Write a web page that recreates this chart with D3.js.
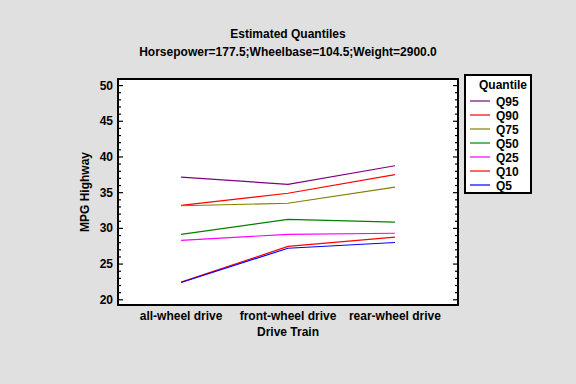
<!DOCTYPE html>
<html>
<head>
<meta charset="utf-8">
<script src="https://cdn.jsdelivr.net/npm/d3@7"></script>
<style>
  body { margin: 0; background: #e0e0e0; }
  text { font-family: "Liberation Sans", Arial, sans-serif; font-weight: bold; fill: #000; }
</style>
</head>
<body>
<div id="chart-area"></div>
<script>
// drive train categories
var driveTrains = ["all-wheel drive", "front-wheel drive", "rear-wheel drive"];

// quantile series
var q95 = [37.1, 36.1, 38.7];
var q90 = [33.15, 34.85, 37.45];
var q75 = [33.1, 33.45, 35.7];
var q50 = [29.1, 31.2, 30.8];
var q25 = [28.25, 29.1, 29.25];
var q10 = [22.4, 27.4, 28.7];
var q5 = [22.35, 27.15, 27.95];

var seriesNames = ["Q95", "Q90", "Q75", "Q50", "Q25", "Q10", "Q5"];
var seriesValues = [q95, q90, q75, q50, q25, q10, q5];
var seriesColors = ["#800080", "#ff0000", "#808000", "#008000", "#ff00ff", "#ff0000", "#0000ff"];

var yTicks = [20, 25, 30, 35, 40, 45, 50];

var W = 576, H = 384;
var margin = {left: 118, right: 118, top: 79, bottom: 79};
var width = W - margin.left - margin.right;
var height = H - margin.top - margin.bottom;

var svg = d3.select("#chart-area")
  .append("svg")
    .attr("width", W)
    .attr("height", H);

svg.append("rect")
    .attr("width", W).attr("height", H)
    .attr("fill", "#e0e0e0");

svg.append("text")
    .attr("x", 288).attr("y", 38)
    .attr("text-anchor", "middle")
    .attr("font-size", "12px")
    .text("Estimated Quantiles");

svg.append("text")
    .attr("x", 288).attr("y", 56)
    .attr("text-anchor", "middle")
    .attr("font-size", "12px")
    .text("Horsepower=177.5;Wheelbase=104.5;Weight=2900.0");

var g = svg.append("g")
    .attr("transform", "translate(" + margin.left + ", " + margin.top + ")");

g.append("rect")
    .attr("width", width).attr("height", height)
    .attr("fill", "#fff");

var x = d3.scalePoint()
    .domain(driveTrains)
    .range([0, width])
    .padding(0.59);

var y = d3.scaleLinear()
    .domain([19.2, 50.85])
    .range([height, 0]);

// minor + major ticks, pointing inward on both sides
var minorTicks = d3.range(20, 51, 1).filter((d) => d % 5 !== 0);

var leftAxis = d3.axisRight(y).tickValues(yTicks).tickSize(5).tickFormat("");
var leftMinor = d3.axisRight(y).tickValues(minorTicks).tickSize(3).tickFormat("");
var rightAxis = d3.axisLeft(y).tickValues(yTicks).tickSize(5).tickFormat("");
var rightMinor = d3.axisLeft(y).tickValues(minorTicks).tickSize(3).tickFormat("");

[leftAxis, leftMinor].forEach((a) => {
  g.append("g").attr("class", "left axis").call(a);
});
[rightAxis, rightMinor].forEach((a) => {
  g.append("g").attr("class", "right axis")
    .attr("transform", "translate(" + width + ",0)")
    .call(a);
});
g.selectAll(".axis .domain").remove();
g.selectAll(".axis line").attr("stroke", "#000").attr("stroke-width", 1.2);

// y tick labels
g.selectAll(".ylab").data(yTicks).enter()
  .append("text")
    .attr("class", "ylab")
    .attr("x", -5)
    .attr("y", (d) => y(d) + 4.5)
    .attr("text-anchor", "end")
    .attr("font-size", "12px")
    .text((d) => d);

// x tick labels
g.selectAll(".xlab").data(driveTrains).enter()
  .append("text")
    .attr("class", "xlab")
    .attr("x", (d) => x(d))
    .attr("y", height + 15)
    .attr("text-anchor", "middle")
    .attr("font-size", "12px")
    .text((d) => d);

var line = d3.line()
    .x((d, i) => x(driveTrains[i]))
    .y((d) => y(d));

g.selectAll(".series").data(seriesValues).enter()
  .append("path")
    .attr("class", "series")
    .attr("d", (d) => line(d))
    .attr("fill", "none")
    .attr("stroke", (d, i) => seriesColors[i])
    .attr("stroke-width", 1.2);

g.append("rect")
    .attr("width", width).attr("height", height)
    .attr("fill", "none")
    .attr("stroke", "#000")
    .attr("stroke-width", 2);

g.append("text")
    .attr("x", width / 2)
    .attr("y", height + 31)
    .attr("text-anchor", "middle")
    .attr("font-size", "12px")
    .text("Drive Train");

g.append("text")
    .attr("x", -(height / 2))
    .attr("y", -29)
    .attr("text-anchor", "middle")
    .attr("font-size", "12px")
    .attr("transform", "rotate(-90)")
    .text("MPG Highway");

// legend
var lg = svg.append("g").attr("transform", "translate(465, 75)");
lg.append("rect")
    .attr("width", 66).attr("height", 118)
    .attr("fill", "#fff")
    .attr("stroke", "#000")
    .attr("stroke-width", 2);
lg.append("text")
    .attr("x", 38).attr("y", 14)
    .attr("text-anchor", "middle")
    .attr("font-size", "12px")
    .text("Quantile");

var items = lg.selectAll(".item").data(seriesNames).enter()
  .append("g")
    .attr("class", "item")
    .attr("transform", (d, i) => "translate(0," + (26 + i * 14) + ")");
items.append("line")
    .attr("x1", 5).attr("x2", 25)
    .attr("stroke", (d, i) => seriesColors[i])
    .attr("stroke-width", 1.2);
items.append("text")
    .attr("x", 31).attr("y", 4.5)
    .attr("font-size", "12px")
    .text((d) => d);
</script>
</body>
</html>
